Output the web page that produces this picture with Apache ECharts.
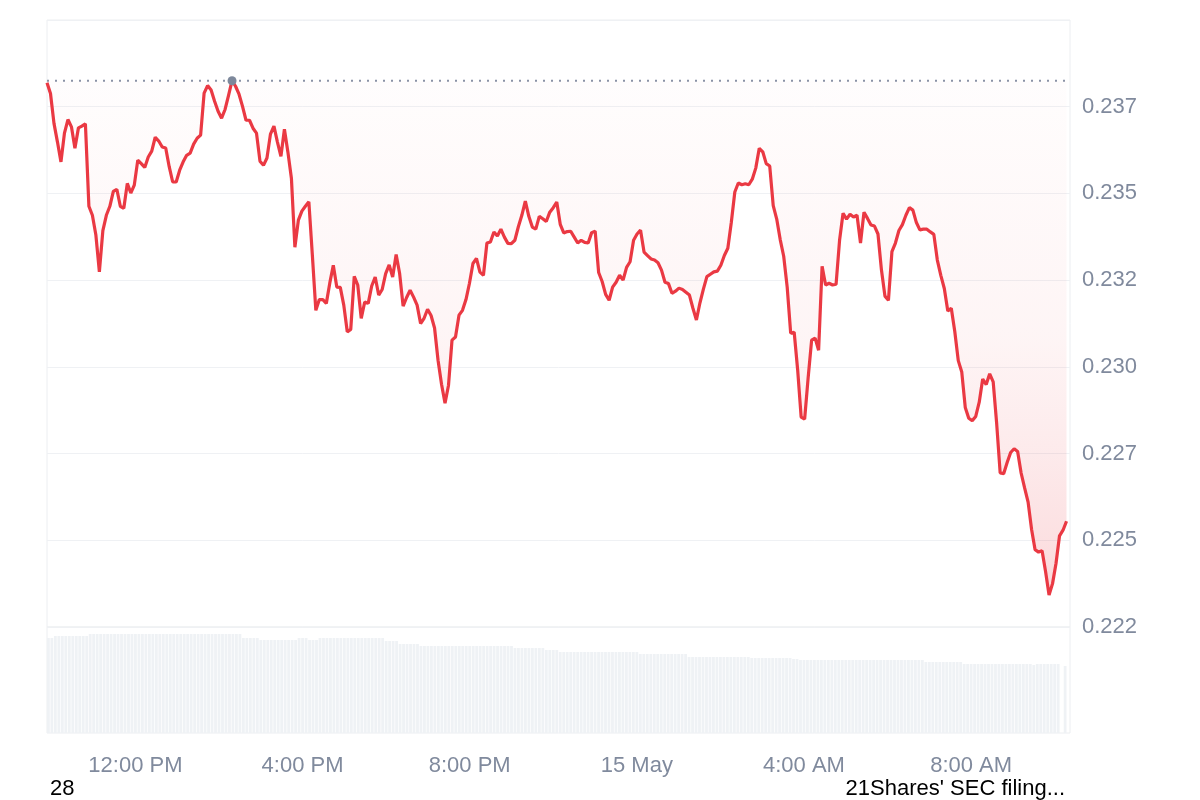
<!DOCTYPE html>
<html>
<head>
<meta charset="utf-8">
<script src="https://cdn.jsdelivr.net/npm/echarts@6/dist/echarts.min.js"></script>
<style>html,body{margin:0;padding:0;background:#fff}#c{width:1200px;height:800px}</style>
</head>
<body>
<div id="c"></div>
<script>
// Price every 5 minutes from 14 May 09:55
const priceValues = [
  0.23819,0.23788,0.23702,0.23648,0.23591,0.23674,0.23713,0.23692,0.23630,0.23689,
  0.23694,0.23701,0.23463,0.23437,0.23380,0.23274,0.23393,0.23437,0.23463,0.23506,
  0.23512,0.23463,0.23457,0.23529,0.23501,0.23524,0.23596,0.23586,0.23575,0.23605,
  0.23622,0.23662,0.23651,0.23634,0.23631,0.23577,0.23533,0.23533,0.23567,0.23591,
  0.23610,0.23616,0.23642,0.23659,0.23668,0.23789,0.23811,0.23798,0.23766,0.23737,
  0.23717,0.23742,0.23783,0.23825,0.23809,0.23786,0.23751,0.23711,0.23711,0.23688,
  0.23674,0.23593,0.23581,0.23602,0.23671,0.23694,0.23648,0.23607,0.23685,0.23619,
  0.23544,0.23345,0.23423,0.23449,0.23463,0.23476,0.23322,0.23163,0.23194,0.23194,
  0.23183,0.23242,0.23293,0.23230,0.23229,0.23178,0.23101,0.23108,0.23261,0.23236,
  0.23140,0.23187,0.23183,0.23233,0.23259,0.23207,0.23223,0.23269,0.23294,0.23259,
  0.23324,0.23269,0.23175,0.23200,0.23221,0.23201,0.23178,0.23125,0.23140,0.23166,
  0.23148,0.23112,0.23019,0.22950,0.22895,0.22947,0.23077,0.23086,0.23149,0.23163,
  0.23194,0.23241,0.23298,0.23313,0.23273,0.23264,0.23357,0.23360,0.23389,0.23377,
  0.23397,0.23374,0.23356,0.23355,0.23365,0.23404,0.23437,0.23478,0.23434,0.23403,
  0.23397,0.23434,0.23427,0.23419,0.23446,0.23459,0.23475,0.23411,0.23386,0.23390,
  0.23391,0.23374,0.23357,0.23365,0.23359,0.23357,0.23387,0.23391,0.23272,0.23246,
  0.23209,0.23192,0.23230,0.23244,0.23264,0.23250,0.23287,0.23303,0.23365,0.23383,
  0.23394,0.23331,0.23321,0.23311,0.23308,0.23300,0.23279,0.23244,0.23240,0.23212,
  0.23218,0.23227,0.23223,0.23215,0.23207,0.23169,0.23135,0.23184,0.23224,0.23260,
  0.23267,0.23274,0.23276,0.23293,0.23321,0.23342,0.23417,0.23504,0.23530,0.23525,
  0.23528,0.23525,0.23541,0.23573,0.23630,0.23620,0.23586,0.23579,0.23465,0.23426,
  0.23367,0.23319,0.23230,0.23097,0.23100,0.22991,0.22855,0.22849,0.22968,0.23077,
  0.23083,0.23048,0.23290,0.23236,0.23241,0.23236,0.23238,0.23365,0.23443,0.23426,
  0.23440,0.23432,0.23437,0.23357,0.23446,0.23428,0.23409,0.23406,0.23383,0.23279,
  0.23204,0.23192,0.23332,0.23357,0.23393,0.23410,0.23437,0.23459,0.23452,0.23416,
  0.23395,0.23397,0.23397,0.23389,0.23382,0.23308,0.23264,0.23226,0.23161,0.23169,
  0.23102,0.23018,0.22985,0.22883,0.22852,0.22845,0.22857,0.22898,0.22965,0.22949,
  0.22980,0.22957,0.22836,0.22694,0.22692,0.22724,0.22753,0.22764,0.22756,0.22694,
  0.22651,0.22610,0.22531,0.22473,0.22466,0.22470,0.22410,0.22342,0.22375,0.22434,
  0.22513,0.22529,0.22555
];

// Volume bars (relative heights), same 5-minute slots
const volumeValues = [
  95,95,97,97,97,97,97,97,97,97,97,97,
  99,99,99,99,99,99,99,99,99,99,99,
  99,99,99,99,99,99,99,99,99,99,99,
  99,99,99,99,99,99,99,99,99,99,99,
  99,99,99,99,99,99,99,99,99,99,99,
  95,95,95,95,95,
  93,93,93,93,93,93,93,93,93,93,93,
  95,95,95,
  93,93,93,
  95,95,95,95,95,95,95,95,95,95,95,95,95,95,95,95,95,95,95,
  92,92,92,92,
  89,89,89,89,89,89,
  87,87,87,87,87,87,87,87,87,87,87,87,87,87,87,87,87,87,87,87,87,87,87,87,87,87,87,
  85,85,85,85,85,85,85,85,85,
  83,83,83,83,
  81,81,81,81,81,81,81,81,81,81,81,81,81,81,81,81,81,81,81,81,81,81,81,
  79,79,79,79,79,79,79,79,79,79,79,79,79,79,
  76,76,76,76,76,76,76,76,76,76,76,76,76,76,76,76,76,76,
  75,75,75,75,75,75,75,75,75,75,75,75,
  74,74,
  73,73,73,73,73,73,73,73,73,73,73,73,73,73,73,73,73,73,
  73,73,73,73,73,73,73,73,73,73,73,73,73,73,73,73,73,73,
  71,71,71,71,71,71,71,71,71,71,71,
  69,69,69,69,69,69,69,69,69,69,69,69,69,69,69,69,69,69,69,69,
  68,
  69,69,69,69,69,69,69,
  0,
  67
];

const monthNames = ['Jan','Feb','Mar','Apr','May','Jun','Jul','Aug','Sep','Oct','Nov','Dec'];
const eventLabels = ['28', "21Shares' SEC filing..."];
const yMin = 0.2225, yMax = 0.24, yStep = 0.0025;
const volMax = 106;

const startTime = new Date(2025, 4, 14, 9, 55, 0).getTime();
const stepMs = 5 * 60 * 1000;
const endTime = startTime + 293 * stepMs;
const fourHours = 4 * 3600 * 1000;

const times = priceValues.map((_, i) => startTime + i * stepMs);
const priceData = times.map((t, i) => [t, priceValues[i]]);
const volumeData = times.map((t, i) => [t, volumeValues[i]]);
const maxPrice = Math.max.apply(null, priceValues);
const maxIndex = priceValues.indexOf(maxPrice);
const maxLineData = [[startTime, maxPrice], [endTime, maxPrice]];

const FONT = 'Liberation Sans';
const GRAY = '#808a9d';

function fmtTime(v) {
  const d = new Date(v);
  const h = d.getHours();
  if (h === 0) return d.getDate() + ' ' + monthNames[d.getMonth()];
  const hh = h % 12 === 0 ? 12 : h % 12;
  return hh + ':00 ' + (h < 12 ? 'AM' : 'PM');
}

const chart = echarts.init(document.getElementById('c'), null, {renderer: 'canvas'});
chart.setOption({
  animation: false,
  backgroundColor: '#ffffff',
  grid: [
    {left: 47, right: 130, top: 20, bottom: 173, show: true, borderColor: '#eceef1', borderWidth: 1},
    {left: 47, right: 130, top: 627, bottom: 67, show: true, borderColor: '#eceef1', borderWidth: 1}
  ],
  xAxis: [
    {type: 'time', gridIndex: 0, min: startTime, max: endTime, show: false},
    {type: 'time', gridIndex: 1, min: startTime, max: endTime,
     minInterval: fourHours, maxInterval: fourHours,
     axisLine: {show: false}, axisTick: {show: false}, splitLine: {show: false},
     axisLabel: {color: GRAY, fontSize: 22, fontFamily: FONT, margin: 22, formatter: fmtTime, hideOverlap: false}}
  ],
  yAxis: [
    {type: 'value', gridIndex: 0, position: 'right', min: yMin, max: yMax, interval: yStep,
     axisLine: {show: false}, axisTick: {show: false},
     splitLine: {lineStyle: {color: '#eff1f4', width: 1}},
     axisLabel: {color: GRAY, fontSize: 22, fontFamily: FONT, margin: 12, showMaxLabel: false,
       formatter: v => (Math.floor(v * 1000 + 1e-6) / 1000).toFixed(3)}},
    {type: 'value', gridIndex: 1, min: 0, max: volMax, show: false}
  ],
  series: [
    {type: 'bar', xAxisIndex: 1, yAxisIndex: 1, data: volumeData, barWidth: 2.8,
     itemStyle: {color: '#eff2f5'}, silent: true},
    {type: 'line', xAxisIndex: 0, yAxisIndex: 0, data: maxLineData, showSymbol: false, symbol: 'none',
     silent: true, z: 2, lineStyle: {color: '#8a93a6', type: [2, 6], width: 2}},
    {type: 'line', xAxisIndex: 0, yAxisIndex: 0, data: priceData, showSymbol: false, symbol: 'none',
     lineStyle: {color: '#ea3943', width: 3.2}, z: 3,
     areaStyle: {origin: maxPrice,
       color: new echarts.graphic.LinearGradient(0, 0, 0, 1, [
         {offset: 0, color: 'rgba(234,57,67,0.015)'},
         {offset: 0.5, color: 'rgba(234,57,67,0.075)'},
         {offset: 0.72, color: 'rgba(234,57,67,0.15)'},
         {offset: 0.89, color: 'rgba(234,57,67,0.22)'},
         {offset: 1, color: 'rgba(234,57,67,0.29)'}
       ])},
     markPoint: {silent: true, symbol: 'circle', symbolSize: 9, label: {show: false},
       itemStyle: {color: '#7d889b'}, data: [{coord: priceData[maxIndex]}]}
    }
  ],
  graphic: [
    {type: 'text', left: 50, top: 778, style: {text: eventLabels[0], font: '22px "Liberation Sans"', fill: '#000'}},
    {type: 'text', right: 135, top: 778, style: {text: eventLabels[1], font: '22px "Liberation Sans"', fill: '#000'}}
  ]
});
</script>
</body>
</html>
